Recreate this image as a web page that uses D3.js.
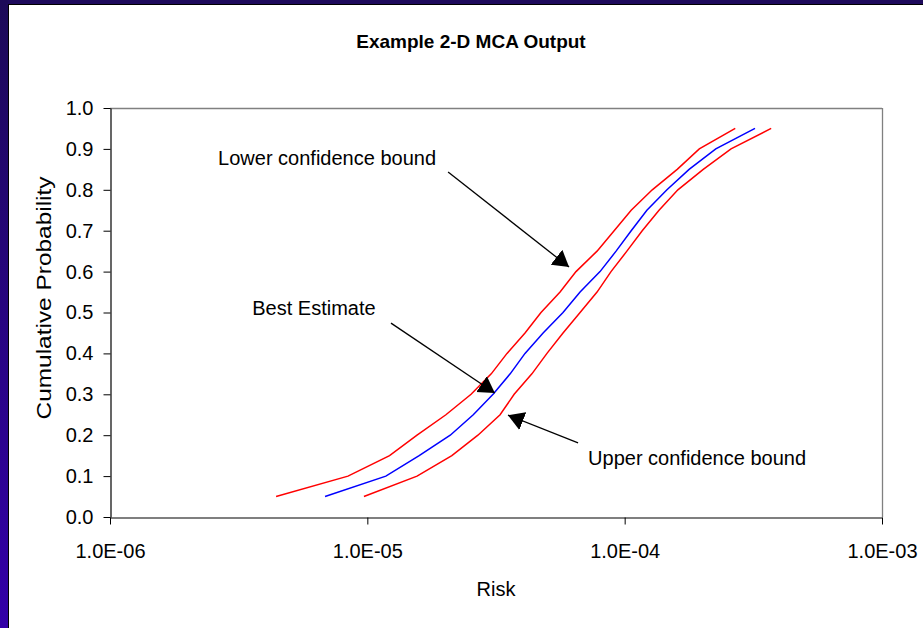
<!DOCTYPE html>
<html>
<head>
<meta charset="utf-8">
<script src="https://cdn.jsdelivr.net/npm/d3@7/dist/d3.min.js"></script>
<style>
  html, body { margin: 0; padding: 0; background: #fff; }
  svg { display: block; font-family: "Liberation Sans", Arial, sans-serif; }
</style>
</head>
<body>
<svg id="chart" width="923" height="628"></svg>
<script>
// ---- data ----
const probabilities = [0.05, 0.10, 0.15, 0.20, 0.25, 0.30, 0.35, 0.40, 0.45, 0.50,
                       0.55, 0.60, 0.65, 0.70, 0.75, 0.80, 0.85, 0.90, 0.95];
const lowerBound = [4.42e-6, 8.41e-6, 1.22e-5, 1.56e-5, 2.02e-5, 2.53e-5, 3.03e-5, 3.49e-5, 4.10e-5, 4.73e-5,
                    5.61e-5, 6.47e-5, 7.81e-5, 9.10e-5, 1.06e-4, 1.28e-4, 1.60e-4, 1.95e-4, 2.69e-4];
const bestEstimate = [6.85e-6, 1.18e-5, 1.59e-5, 2.10e-5, 2.58e-5, 3.08e-5, 3.59e-5, 4.10e-5, 4.82e-5, 5.76e-5,
                      6.71e-5, 8.02e-5, 9.26e-5, 1.06e-4, 1.22e-4, 1.46e-4, 1.78e-4, 2.26e-4, 3.21e-4];
const upperBound = [9.70e-6, 1.56e-5, 2.13e-5, 2.69e-5, 3.28e-5, 3.72e-5, 4.36e-5, 4.99e-5, 5.76e-5, 6.71e-5,
                    7.81e-5, 8.85e-5, 1.02e-4, 1.17e-4, 1.36e-4, 1.61e-4, 2.02e-4, 2.59e-4, 3.71e-4];
const xTickValues = [1e-6, 1e-5, 1e-4, 1e-3];
const xTickLabels = ["1.0E-06", "1.0E-05", "1.0E-04", "1.0E-03"];
const yTickValues = [0, 0.1, 0.2, 0.3, 0.4, 0.5, 0.6, 0.7, 0.8, 0.9, 1.0];
const titleText = "Example 2-D MCA Output";
const xAxisTitle = "Risk";
const yAxisTitle = "Cumulative Probability";
// annotations: label, text anchor point (risk, prob), arrow start (risk, prob), arrow tip (risk, prob)
const annotationLabels = ["Lower confidence bound", "Best Estimate", "Upper confidence bound"];
const annotationTextAt = [[2.63e-6, 0.861], [3.57e-6, 0.494], [7.21e-5, 0.127]];
const annotationFrom = [[2.06e-5, 0.8435], [1.236e-5, 0.474], [6.59e-5, 0.181]];
const annotationTo = [[6.08e-5, 0.611], [3.13e-5, 0.303], [3.52e-5, 0.249]];

// ---- layout ----
const svg = d3.select("#chart");
const W = 923, H = 628;
const plot = { left: 110, right: 882, top: 108, bottom: 517 };

// frame
const defs = svg.append("defs");
const grad = defs.append("linearGradient").attr("id", "sideGrad")
  .attr("x1", 0).attr("y1", 0).attr("x2", 0).attr("y2", 1);
grad.append("stop").attr("offset", "0%").attr("stop-color", "#1c0a58");
grad.append("stop").attr("offset", "100%").attr("stop-color", "#3300a8");
svg.append("rect").attr("x", 0).attr("y", 0).attr("width", W).attr("height", H).attr("fill", "#fff");
svg.append("rect").attr("x", 0).attr("y", 0).attr("width", W).attr("height", 4).attr("fill", "#1e0a5c");
svg.append("rect").attr("x", 0).attr("y", 0).attr("width", 8).attr("height", H).attr("fill", "url(#sideGrad)");
svg.append("line").attr("x1", 8).attr("x2", W).attr("y1", 4.5).attr("y2", 4.5).attr("stroke", "#000").attr("stroke-width", 1);
svg.append("line").attr("x1", 8.5).attr("x2", 8.5).attr("y1", 4).attr("y2", H).attr("stroke", "#000").attr("stroke-width", 1);

const x = d3.scaleLog().domain([1e-6, 1e-3]).range([plot.left, plot.right]);
const y = d3.scaleLinear().domain([0, 1]).range([plot.bottom, plot.top]);

// plot border (top/right grey)
svg.append("line").attr("x1", plot.left).attr("x2", plot.right).attr("y1", plot.top + 0.5).attr("y2", plot.top + 0.5)
  .attr("stroke", "#808080").attr("stroke-width", 1.3);
svg.append("line").attr("x1", plot.right + 0.5).attr("x2", plot.right + 0.5).attr("y1", plot.top).attr("y2", plot.bottom)
  .attr("stroke", "#808080").attr("stroke-width", 1.3);

// axes
const xAxis = d3.axisBottom(x).tickValues(xTickValues)
  .tickFormat((d, i) => xTickLabels[i]).tickSize(7).tickSizeOuter(0).tickPadding(19);
const gx = svg.append("g").attr("transform", `translate(0,${plot.bottom + 0.5})`).call(xAxis);
const yAxis = d3.axisLeft(y).tickValues(yTickValues).tickFormat(d3.format(".1f"))
  .tickSize(7).tickSizeOuter(0).tickPadding(10);
const gy = svg.append("g").attr("transform", `translate(${plot.left + 0.5},0)`).call(yAxis);
[gx, gy].forEach(g => {
  g.selectAll("path.domain").attr("stroke", "#000").attr("stroke-width", 1.2);
  g.selectAll(".tick line").attr("stroke", "#000").attr("stroke-width", 1);
  g.selectAll(".tick text").attr("fill", "#000").attr("font-size", 20)
    .attr("font-family", "'Liberation Sans', Arial, sans-serif");
});

// series
const line = d3.line().x(d => x(d[0])).y(d => y(d[1]));
const seriesList = [
  { values: lowerBound, color: "#ff0000" },
  { values: upperBound, color: "#ff0000" },
  { values: bestEstimate, color: "#0000ff" }
];
seriesList.forEach(s => {
  svg.append("path")
    .datum(s.values.map((v, i) => [v, probabilities[i]]))
    .attr("d", line).attr("fill", "none")
    .attr("stroke", s.color).attr("stroke-width", 1.5);
});

// arrow marker
defs.append("marker").attr("id", "arrowHead")
  .attr("markerUnits", "userSpaceOnUse")
  .attr("viewBox", "0 -10 17 20").attr("refX", 16).attr("refY", 0)
  .attr("markerWidth", 17).attr("markerHeight", 20).attr("orient", "auto")
  .append("path").attr("d", "M0,-9.5L16,0L0,9.5Z").attr("fill", "#000");

annotationLabels.forEach((lab, i) => {
  svg.append("line")
    .attr("x1", x(annotationFrom[i][0])).attr("y1", y(annotationFrom[i][1]))
    .attr("x2", x(annotationTo[i][0])).attr("y2", y(annotationTo[i][1]))
    .attr("stroke", "#000").attr("stroke-width", 1.3)
    .attr("marker-end", "url(#arrowHead)");
  svg.append("text")
    .attr("x", x(annotationTextAt[i][0])).attr("y", y(annotationTextAt[i][1]))
    .attr("font-size", 20).attr("fill", "#000").text(lab);
});

// titles
svg.append("text").attr("x", 471).attr("y", 48).attr("text-anchor", "middle")
  .attr("font-size", 19).attr("font-weight", "bold").attr("fill", "#000").text(titleText);
svg.append("text").attr("x", (plot.left + plot.right) / 2).attr("y", 596).attr("text-anchor", "middle")
  .attr("font-size", 20).attr("fill", "#000").text(xAxisTitle);
svg.append("text").attr("transform", `translate(51,298) rotate(-90)`).attr("text-anchor", "middle")
  .attr("font-size", 21).attr("textLength", 243).attr("lengthAdjust", "spacingAndGlyphs")
  .attr("fill", "#000").text(yAxisTitle);
</script>
</body>
</html>
